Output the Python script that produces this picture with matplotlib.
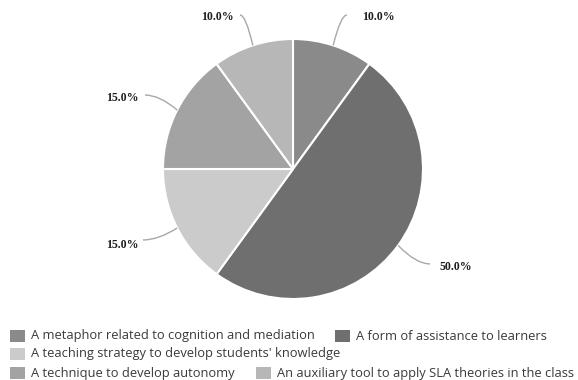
import numpy as np
import matplotlib.pyplot as plt
from matplotlib.patches import Rectangle, PathPatch
from matplotlib.path import Path

categories = [
    'A metaphor related to cognition and mediation',
    'A form of assistance to learners',
    "A teaching strategy to develop students' knowledge",
    'A technique to develop autonomy',
    'An auxiliary tool to apply SLA theories in the class',
]
shares = [10.0, 50.0, 15.0, 15.0, 10.0]
colors = ['#8a8a8a', '#6f6f6f', '#cbcbcb', '#a3a3a3', '#b7b7b7']

# label placement: leader end and text centre (pie radius units)
leader_end = [(0.415, 1.185), (1.054, -0.73), (-1.154, -0.546), (-1.138, 0.569), (-0.408, 1.185)]
text_pos = [(0.66, 1.17), (1.254, -0.754), (-1.315, -0.585), (-1.315, 0.546), (-0.585, 1.17)]

W, H = 578, 380
fig = plt.figure(figsize=(W / 100, H / 100), dpi=100)

cx, cy, r = 293, 169, 130
ax = fig.add_axes([(cx - r) / W, (H - cy - r) / H, 2 * r / W, 2 * r / H])
wedges, _ = ax.pie(shares, colors=colors, startangle=90, counterclock=False,
                   radius=1, wedgeprops=dict(edgecolor='white', linewidth=1.5))
ax.set_xlim(-1, 1)
ax.set_ylim(-1, 1)
ax.set_aspect('auto')
ax.axis('off')

for i, w in enumerate(wedges):
    mid = np.deg2rad((w.theta1 + w.theta2) / 2)
    sx, sy = np.cos(mid), np.sin(mid)
    ex, ey = leader_end[i]
    # quadratic curve that leaves the pie and ends flat next to the label
    ctrl = (ex + 0.45 * (sx - ex), ey)
    leader = Path([(sx, sy), ctrl, (ex, ey)], [Path.MOVETO, Path.CURVE3, Path.CURVE3])
    ax.add_patch(PathPatch(leader, facecolor='none', edgecolor='#a8a8a8',
                           lw=1.0, clip_on=False))
    tx, ty = text_pos[i]
    ax.text(tx, ty, f'{shares[i]:.1f}%', ha='center', va='center',
            fontfamily='Liberation Serif', fontweight='bold', fontsize=8.6,
            color='#1e1e1e', clip_on=False)

# legend laid out in rows like the original
legend_xy = [(10, 336), (335, 336), (10, 354), (10, 373), (256, 373)]
for (lx, ly), col, name in zip(legend_xy, colors, categories):
    fig.patches.append(Rectangle((lx / W, (H - ly - 6) / H), 15 / W, 12 / H,
                                 transform=fig.transFigure, facecolor=col,
                                 edgecolor='none'))
    fig.text((lx + 21) / W, (H - ly) / H, name, ha='left', va='center',
             fontfamily='Open Sans', fontsize=9.3, color='#3a3a3a')

fig.savefig('out.png', dpi=100)
